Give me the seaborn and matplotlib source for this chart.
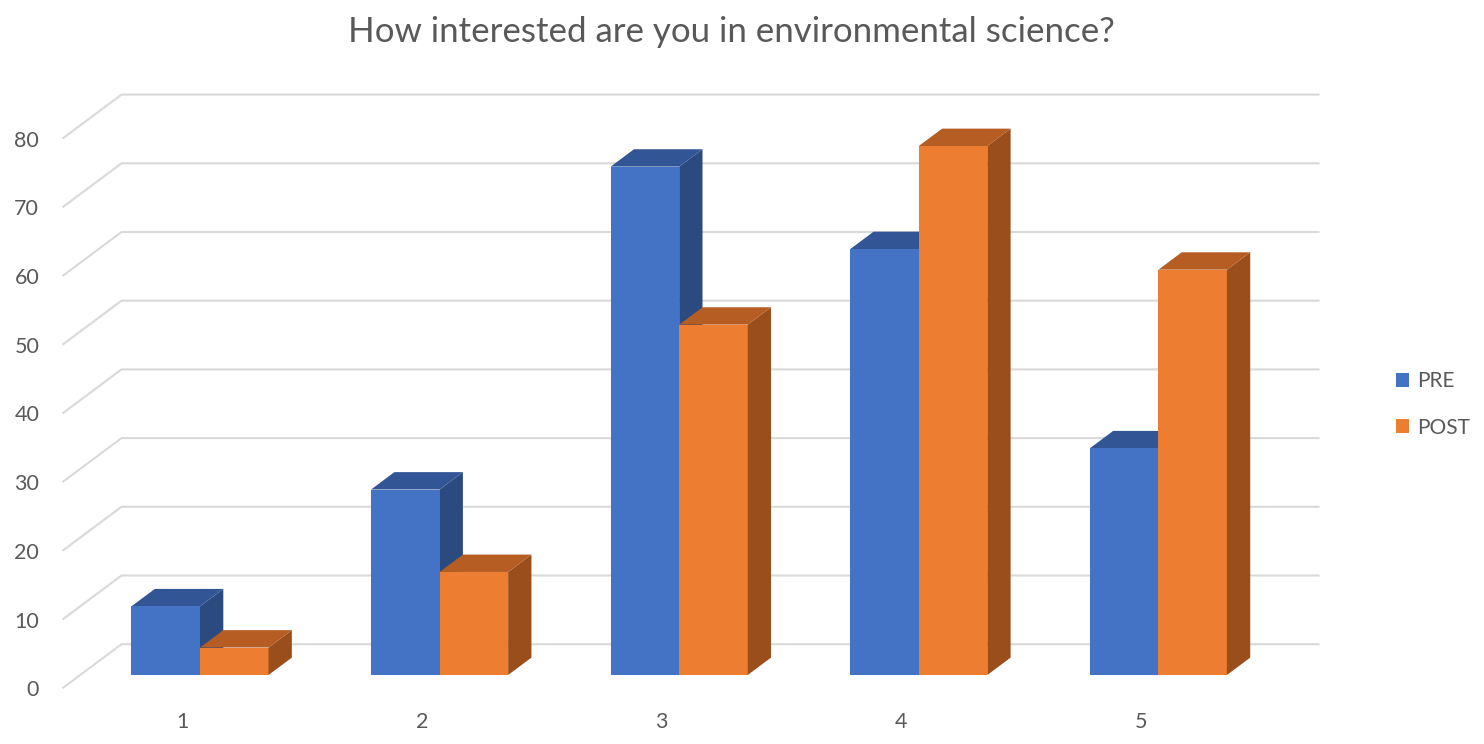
import numpy as np
import pandas as pd
import matplotlib
matplotlib.use("Agg")
import matplotlib.pyplot as plt
from matplotlib.patches import Polygon, Patch
import seaborn as sns

# ---- data ----
categories = ["1", "2", "3", "4", "5"]
pre_values = [10, 27, 74, 62, 33]
post_values = [4, 15, 51, 77, 59]
series_names = ["PRE", "POST"]
tick_values = [0, 10, 20, 30, 40, 50, 60, 70, 80]
title = "How interested are you in environmental science?"

# ---- style ----
front_colors = ["#4472C4", "#ED7D31"]
top_colors = ["#325596", "#B55D22"]
side_colors = ["#2A4A80", "#9A4E1C"]
text_color = "#595959"
grid_color = "#D9D9D9"

sns.set_style("white")
plt.rcParams["font.family"] = ["Lato", "DejaVu Sans"]

W, H = 1484, 744
fig = plt.figure(figsize=(W / 100, H / 100), dpi=100)

# depth geometry (pixels per unit depth)
ppx, ppy = 239.6, 6.87
depth_vec = np.array([59.0, 44.0])
bar_front_depth = 0.30
bar_depth = 0.395

def px2data(dx, dy):
    return dx / ppx, dy / ppy

fdx, fdy = px2data(*(-depth_vec * bar_front_depth))
kdx, kdy = px2data(*(depth_vec * (1 - bar_front_depth)))
bdx, bdy = px2data(*(depth_vec * bar_depth))

# axes in the plane of the bars' front faces; value 0 sits 69 px above the bottom
ymin = fdy - 0.2
zero_px = 69.0
ax_left_px = 80.2
ax_bottom_px = zero_px + ymin * ppy
ax_w_px, ax_h_px = ppx * 5, ppy * (80 - ymin)
ax = fig.add_axes([ax_left_px / W, ax_bottom_px / H, ax_w_px / W, ax_h_px / H])

df = pd.DataFrame({
    "score": categories * 2,
    "count": pre_values + post_values,
    "time": [series_names[0]] * len(categories) + [series_names[1]] * len(categories),
})
sns.barplot(data=df, x="score", y="count", hue="time", order=categories,
            hue_order=series_names, palette=front_colors, saturation=1,
            width=0.572, linewidth=0, ax=ax, zorder=3)
for s in ax.spines.values():
    s.set_visible(False)
ax.set_xlabel("")
ax.set_ylabel("")

# 3D faces for bars
for i, cont in enumerate(ax.containers):
    z = 2 if i == 0 else 4
    for rect in cont:
        x0 = rect.get_x()
        x1 = x0 + rect.get_width()
        y1 = rect.get_height()
        top = Polygon([(x0, y1), (x1, y1), (x1 + bdx, y1 + bdy), (x0 + bdx, y1 + bdy)],
                      closed=True, facecolor=top_colors[i], edgecolor="none",
                      zorder=z, clip_on=False)
        side = Polygon([(x1, 0), (x1 + bdx, bdy), (x1 + bdx, y1 + bdy), (x1, y1)],
                       closed=True, facecolor=side_colors[i], edgecolor="none",
                       zorder=z, clip_on=False)
        ax.add_patch(side)
        ax.add_patch(top)

# gridlines on the wall/floor
for v in tick_values:
    xs = [-0.5 + fdx, -0.5 + kdx, 4.5 + kdx]
    ys = [v + fdy, v + kdy, v + kdy]
    ax.plot(xs, ys, color=grid_color, lw=1.5, zorder=0, clip_on=False,
            solid_capstyle="butt")

# tick labels at the front edge
ax.set_yticks([v + fdy for v in tick_values], [str(v) for v in tick_values])
ax.set_xticks([i + fdx for i in range(len(categories))], categories)
ax.tick_params(axis="y", length=0, pad=29.5, labelsize=15.5, labelcolor=text_color)
ax.tick_params(axis="x", length=0, pad=16, labelsize=15.5, labelcolor=text_color)
ax.set_xlim(-0.5, 4.5)
ax.set_ylim(ymin, 80)

# title
fig.text(731 / W, 1 - 42 / H, title, ha="center", va="baseline",
         fontsize=25.1, color=text_color)

# legend
handles = [Patch(facecolor=c, edgecolor="none") for c in front_colors]
ax.legend(handles, series_names, loc="center left",
          bbox_to_anchor=(1396 / W, 1 - 404.5 / H), bbox_transform=fig.transFigure,
          frameon=False, fontsize=15, labelcolor=text_color,
          handlelength=0.62, handleheight=0.62, handletextpad=0.4,
          labelspacing=1.25, borderpad=0, borderaxespad=0)

fig.savefig("out.png", dpi=100)
